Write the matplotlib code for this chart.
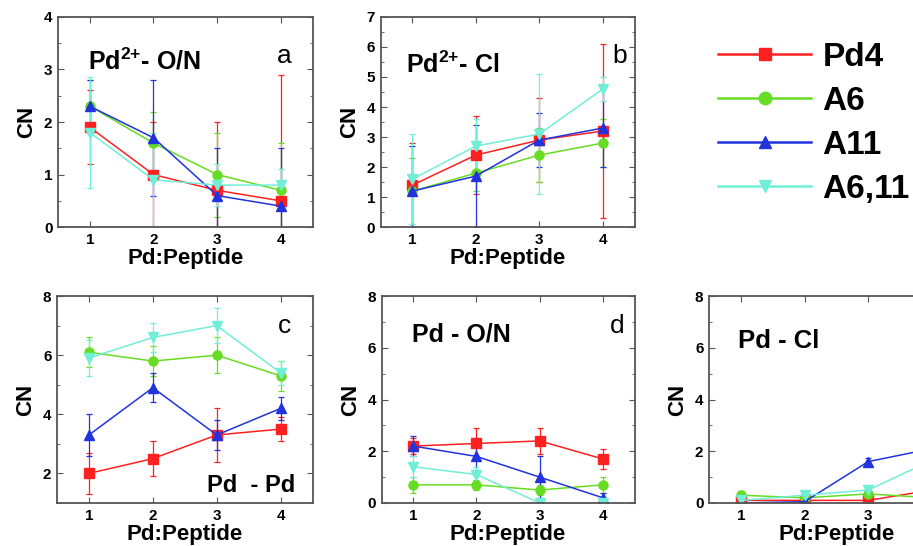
import matplotlib.pyplot as plt
from matplotlib.lines import Line2D
from matplotlib.ticker import MultipleLocator

plt.rcParams['font.family'] = ['Liberation Sans', 'DejaVu Sans']
plt.rcParams['font.weight'] = 'bold'
plt.rcParams['axes.labelweight'] = 'bold'
plt.rcParams['mathtext.fontset'] = 'custom'
plt.rcParams['mathtext.bf'] = 'Liberation Sans:bold'
plt.rcParams['mathtext.rm'] = 'Liberation Sans:bold'

ratio = [1, 2, 3, 4]
names = ['Pd4', 'A6', 'A11', 'A6,11']
colors = ['#ff2020', '#66dd22', '#2233dd', '#70eed8']
markers = ['s', 'o', '^', 'v']

# a: Pd2+ - O/N   (rows: Pd4, A6, A11, A6,11)
a_cn = [[1.9, 1.0, 0.7, 0.5], [2.3, 1.6, 1.0, 0.7], [2.3, 1.7, 0.6, 0.4], [1.8, 0.9, 0.8, 0.8]]
a_err = [[0.7, 1.0, 1.3, 2.4], [0.5, 0.6, 0.8, 0.9], [0.5, 1.1, 0.9, 1.1], [1.05, 0.9, 0.4, 0.3]]
# b: Pd2+ - Cl
b_cn = [[1.4, 2.4, 2.9, 3.2], [1.2, 1.8, 2.4, 2.8], [1.2, 1.7, 2.9, 3.3], [1.6, 2.7, 3.1, 4.6]]
b_err = [[1.4, 1.3, 1.4, 2.9], [1.1, 0.6, 0.9, 0.8], [1.5, 1.7, 0.9, 1.3], [1.5, 0.9, 2.0, 0.4]]
# c: Pd - Pd
c_cn = [[2.0, 2.5, 3.3, 3.5], [6.1, 5.8, 6.0, 5.3], [3.3, 4.9, 3.3, 4.2], [5.9, 6.6, 7.0, 5.4]]
c_err = [[0.7, 0.6, 0.9, 0.4], [0.5, 0.5, 0.6, 0.5], [0.7, 0.5, 0.5, 0.4], [0.6, 0.5, 0.6, 0.4]]
# d: Pd - O/N
d_cn = [[2.2, 2.3, 2.4, 1.7], [0.7, 0.7, 0.5, 0.7], [2.2, 1.8, 1.0, 0.2], [1.4, 1.1, 0.0, 0.0]]
d_err = [[0.3, 0.6, 0.5, 0.4], [0.3, 0.2, 0.2, 0.3], [0.4, 0.7, 0.8, 0.2], [0.4, 0.3, 0.0, 0.0]]
# e: Pd - Cl (panel is cut at the right edge)
e_cn = [[0.1, 0.1, 0.1, 0.5], [0.3, 0.2, 0.35, 0.2], [0.0, 0.05, 1.6, 2.1], [0.1, 0.3, 0.5, 1.65]]
e_err = [[0.15, 0.15, 0.1, 0.1], [0.15, 0.1, 0.15, 0.1], [0.05, 0.05, 0.15, 0.15], [0.1, 0.15, 0.15, 0.15]]


def plotPanel(ax, cn, err):
	for i in range(4):
		ax.errorbar(ratio, cn[i], yerr=err[i], color=colors[i], marker=markers[i],
			markersize=6.5, linewidth=1.1, elinewidth=0.9, capsize=2, capthick=0.9)


def setPanel(ax, ylim, major, minor):
	ax.set_xlim(0.5, 4.5)
	ax.set_ylim(*ylim)
	ax.set_xticks(ratio)
	ax.yaxis.set_major_locator(MultipleLocator(major))
	ax.yaxis.set_minor_locator(MultipleLocator(minor))
	ax.tick_params(which='both', direction='in', top=True, right=True, labelsize=11, pad=4, color='#555555')
	ax.tick_params(which='major', length=4)
	ax.tick_params(which='minor', length=2)
	for lab in ax.get_xticklabels() + ax.get_yticklabels():
		lab.set_fontweight('bold')
	for s in ax.spines.values():
		s.set_color('#555555')
		s.set_linewidth(1.3)
	ax.set_xlabel('Pd:Peptide', fontsize=16, labelpad=1)
	ax.set_ylabel('CN', fontsize=16, labelpad=5)


fig = plt.figure(figsize=(9.13, 5.46), dpi=100)
ax_a = fig.add_axes([0.0635, 0.584, 0.279, 0.385])
ax_b = fig.add_axes([0.417, 0.584, 0.278, 0.385])
ax_c = fig.add_axes([0.0624, 0.0788, 0.280, 0.379])
ax_d = fig.add_axes([0.418, 0.0788, 0.277, 0.379])
ax_e = fig.add_axes([0.7766, 0.0788, 0.279, 0.379])

plotPanel(ax_a, a_cn, a_err)
plotPanel(ax_b, b_cn, b_err)
plotPanel(ax_c, c_cn, c_err)
plotPanel(ax_d, d_cn, d_err)
plotPanel(ax_e, e_cn, e_err)

setPanel(ax_a, (0, 4), 1, 0.5)
setPanel(ax_b, (0, 7), 1, 0.5)
setPanel(ax_c, (1, 8), 2, 1)
setPanel(ax_d, (0, 8), 2, 1)
setPanel(ax_e, (0, 8), 2, 1)
# last tick label of panel e lies outside the cropped picture
ax_e.set_xticklabels(['1', '2', '3', ''])

ax_a.text(0.118, 0.748, r'Pd$^{\mathbf{2{+}}}$- O/N', transform=ax_a.transAxes, fontsize=18)
ax_a.text(0.89, 0.78, 'a', transform=ax_a.transAxes, fontsize=19, fontweight='normal', ha='center')
ax_b.text(0.10, 0.735, r'Pd$^{\mathbf{2{+}}}$- Cl', transform=ax_b.transAxes, fontsize=18)
ax_b.text(0.94, 0.78, 'b', transform=ax_b.transAxes, fontsize=19, fontweight='normal', ha='center')
ax_c.text(0.585, 0.053, 'Pd  - Pd', transform=ax_c.transAxes, fontsize=17)
ax_c.text(0.89, 0.82, 'c', transform=ax_c.transAxes, fontsize=19, fontweight='normal', ha='center')
ax_d.text(0.12, 0.78, 'Pd - O/N', transform=ax_d.transAxes, fontsize=18)
ax_d.text(0.93, 0.82, 'd', transform=ax_d.transAxes, fontsize=19, fontweight='normal', ha='center')
ax_e.text(0.114, 0.75, 'Pd - Cl', transform=ax_e.transAxes, fontsize=18.5)

handles = [Line2D([], [], color=colors[i], marker=markers[i], markersize=9, linewidth=1.8) for i in range(4)]
fig.legend(handles, names, loc='upper left', bbox_to_anchor=(718 / 913, 1 - 42 / 546), frameon=False,
	fontsize=24, handlelength=2.8, handletextpad=0.33, labelspacing=0.39, borderpad=0, borderaxespad=0)

fig.savefig('out.png', dpi=100)
